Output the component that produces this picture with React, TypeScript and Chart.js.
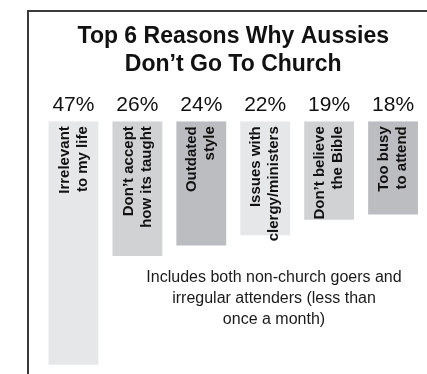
import React, { useEffect, useRef } from 'react';
import { Chart, registerables } from 'chart.js';

Chart.register(...registerables);

// ---- data ----
const categories: string[][] = [
  ['Irrelevant', 'to my life'],
  ['Don\u2019t accept', 'how its taught'],
  ['Outdated', 'style'],
  ['Issues with', 'clergy/ministers'],
  ['Don\u2019t believe', 'the Bible'],
  ['Too busy', 'to attend'],
];
const values: number[] = [47, 26, 24, 22, 19, 18];
const tickLabels: string[] = values.map((v) => `${v}%`);
const barColors: string[] = ['#e6e7e8', '#d1d2d4', '#bcbdc0', '#e6e7e8', '#d1d2d4', '#bcbdc0'];
const titleLines: string[] = ['Top 6 Reasons Why Aussies', 'Don\u2019t Go To Church'];
const noteLines: string[] = [
  'Includes both non-church goers and',
  'irregular attenders (less than',
  'once a month)',
];

const BAR_FONT = "bold 15px 'Liberation Sans', Arial, sans-serif";

const framePlugin = {
  id: 'frame',
  beforeDraw(chart: any) {
    const ctx = chart.ctx;
    ctx.save();
    ctx.fillStyle = '#ffffff';
    ctx.fillRect(0, 0, chart.width, chart.height);
    ctx.strokeStyle = '#3a3a3a';
    ctx.lineWidth = 2;
    ctx.beginPath();
    ctx.moveTo(28, chart.height);
    ctx.lineTo(28, 11);
    ctx.lineTo(chart.width, 11);
    ctx.stroke();
    ctx.restore();
  },
};

const barTextPlugin = {
  id: 'barText',
  afterDatasetsDraw(chart: any) {
    const ctx = chart.ctx;
    const meta = chart.getDatasetMeta(0);
    ctx.save();
    ctx.font = BAR_FONT;
    ctx.fillStyle = '#111111';
    ctx.textAlign = 'right';
    ctx.textBaseline = 'middle';
    meta.data.forEach((el: any, i: number) => {
      const lines = categories[i];
      const top = Math.min(el.y, el.base);
      ctx.save();
      ctx.translate(el.x, top + 5);
      ctx.rotate(-Math.PI / 2);
      const lh = 18;
      lines.forEach((ln, j) => {
        ctx.fillText(ln, 0, (j - (lines.length - 1) / 2) * lh);
      });
      ctx.restore();
    });
    ctx.restore();
  },
};

const notePlugin = {
  id: 'note',
  afterDraw(chart: any) {
    const ctx = chart.ctx;
    ctx.save();
    ctx.font = "16px 'Liberation Sans', Arial, sans-serif";
    ctx.fillStyle = '#1a1a1a';
    ctx.textAlign = 'center';
    ctx.textBaseline = 'middle';
    noteLines.forEach((ln, i) => {
      ctx.fillText(ln, 274, 278 + i * 21);
    });
    ctx.restore();
  },
};

export default function App() {
  const ref = useRef<HTMLCanvasElement | null>(null);

  useEffect(() => {
    if (!ref.current) return;
    const chart = new Chart(ref.current, {
      type: 'bar',
      data: {
        labels: tickLabels,
        datasets: [
          {
            data: values,
            backgroundColor: barColors,
            borderWidth: 0,
            barPercentage: 1,
            categoryPercentage: 0.78,
          },
        ],
      },
      options: {
        responsive: false,
        animation: false,
        layout: { padding: { left: 41.5, right: 2, top: 0, bottom: 0 } },
        plugins: {
          legend: { display: false },
          tooltip: { enabled: false },
          title: {
            display: true,
            text: titleLines,
            color: '#111111',
            font: { family: "'Liberation Sans', Arial, sans-serif", size: 23, weight: 'bold', lineHeight: 1.196 },
            padding: { top: 23, bottom: 12 },
          },
        },
        scales: {
          x: {
            position: 'top',
            grid: { display: false, drawTicks: false },
            border: { display: false },
            ticks: {
              color: '#111111',
              padding: 3,
              font: { family: "'Liberation Sans', Arial, sans-serif", size: 21, lineHeight: 1.2 },
            },
          },
          y: {
            display: false,
            reverse: true,
            min: 0,
            max: 48.8,
          },
        },
      },
      plugins: [framePlugin, barTextPlugin, notePlugin],
    });
    return () => chart.destroy();
  }, []);

  return (
    <div style={{ position: 'absolute', left: 0, top: 0, width: 427, height: 374 }}>
      <canvas ref={ref} width={427} height={374} />
    </div>
  );
}
